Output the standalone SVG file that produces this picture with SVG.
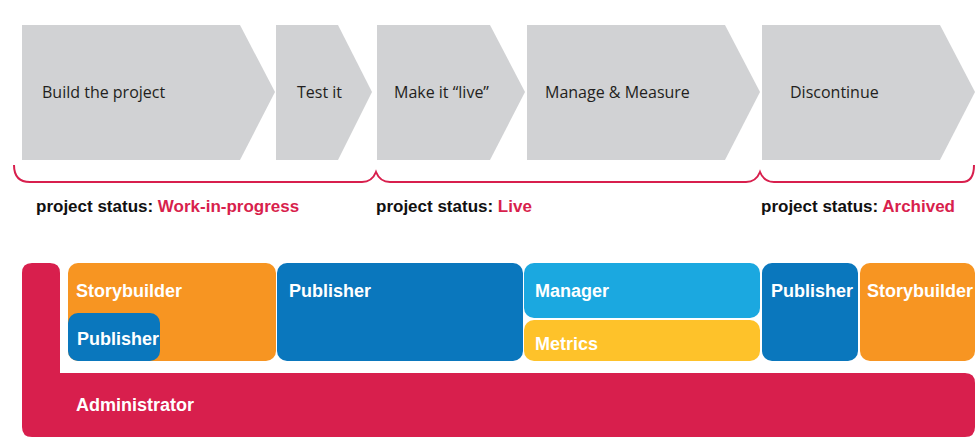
<svg xmlns="http://www.w3.org/2000/svg" width="980" height="437" viewBox="0 0 980 437">
<style>
.chev{fill:#d1d2d4}
.ct{font-family:"Open Sans","Liberation Sans",sans-serif;font-size:16px;fill:#231f20}
.st{font-family:"Liberation Sans Narrow","Liberation Sans",sans-serif;font-stretch:condensed;font-weight:bold;font-size:17px;fill:#111}
.st tspan{fill:#d81f4d}
.br{fill:none;stroke:#d81f4d;stroke-width:2}
.bt{font-family:"Liberation Sans Narrow","Liberation Sans",sans-serif;font-stretch:condensed;font-weight:bold;font-size:18px;fill:#fff}
</style>
<g id="build"><polygon class="chev" points="22,25 240,25 275,92 240,160 22,160"/><text class="ct" x="42" y="98">Build the project</text></g>
<g id="test"><polygon class="chev" points="276,25 338,25 372,92 338,160 276,160"/><text class="ct" x="297" y="98">Test it</text></g>
<g id="live"><polygon class="chev" points="377,25 490,25 525,92 490,160 377,160"/><text class="ct" x="394" y="98">Make it “live”</text></g>
<g id="manage"><polygon class="chev" points="527,25 725,25 760,92 725,160 527,160"/><text class="ct" x="545" y="98">Manage &amp; Measure</text></g>
<g id="discontinue"><polygon class="chev" points="762,25 940,25 975,92 940,160 762,160"/><text class="ct" x="790" y="98">Discontinue</text></g>
<g id="connectors">
<path class="br" d="M14,165 Q14,182 30,182 L362,182 Q372,182 376,172 Q380,182 390,182 L746,182 Q756,182 760,172 Q764,182 774,182 L962,182 Q974,182 974,165"/>
</g>
<g id="status"><text class="st" x="36" y="212">project status: <tspan>Work-in-progress</tspan></text>
<text class="st" x="376" y="212">project status: <tspan>Live</tspan></text>
<text class="st" x="761" y="212">project status: <tspan>Archived</tspan></text></g>
<g id="administrator"><path fill="#d81f4d" d="M32,263 L50,263 Q60,263 60,273 L60,373 L965,373 Q975,373 975,383 L975,427 Q975,437 965,437 L32,437 Q22,437 22,427 L22,273 Q22,263 32,263 Z"/><text class="bt" x="76" y="411">Administrator</text></g>
<g id="storybuilder1"><rect x="68" y="263" width="208" height="98" rx="10" fill="#f79522"/><text class="bt" x="76" y="297">Storybuilder</text></g>
<g id="publisher1"><rect x="68" y="313" width="92" height="48" rx="10" fill="#0a77bd"/><text class="bt" x="77" y="345">Publisher</text></g>
<g id="publisher2"><rect x="277" y="263" width="246" height="98" rx="10" fill="#0a77bd"/><text class="bt" x="289" y="297">Publisher</text></g>
<g id="manager"><rect x="524" y="263" width="236" height="55" rx="10" fill="#1ba8e0"/><text class="bt" x="535" y="297">Manager</text></g>
<g id="metrics"><rect x="524" y="320" width="236" height="41" rx="10" fill="#fec22a"/><text class="bt" x="535" y="350">Metrics</text></g>
<g id="publisher3"><rect x="762" y="263" width="96" height="98" rx="10" fill="#0a77bd"/><text class="bt" x="771" y="297">Publisher</text></g>
<g id="storybuilder2"><rect x="860" y="263" width="115" height="98" rx="10" fill="#f79522"/><text class="bt" x="867" y="297">Storybuilder</text></g>
</svg>
